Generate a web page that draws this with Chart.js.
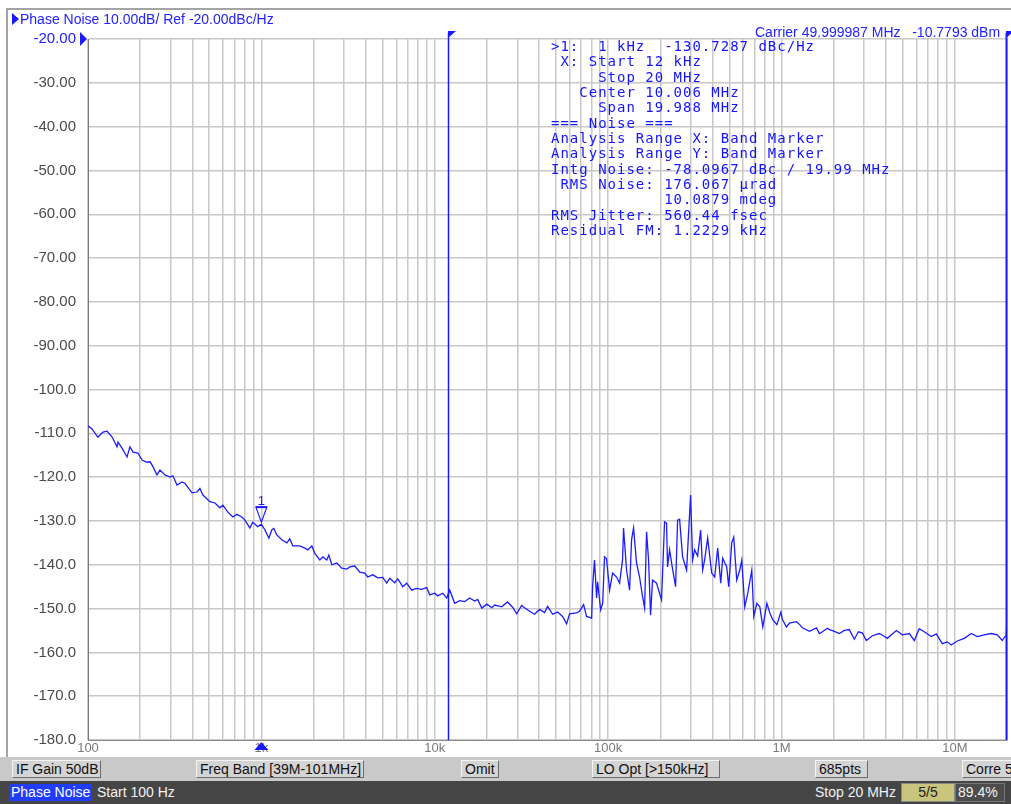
<!DOCTYPE html>
<html>
<head>
<meta charset="utf-8">
<title>Phase Noise</title>
<script src="https://cdn.jsdelivr.net/npm/chart.js@4.4.0/dist/chart.umd.min.js"></script>
<style>
  body { margin: 0; width: 1011px; height: 804px; overflow: hidden; position: relative; background: #fff; font-family: "Liberation Sans", Arial, sans-serif; }
  #frame { position: absolute; left: 6px; top: 8px; width: 1005px; height: 749px; border-top: 2px solid #a4a4a4; border-left: 2px solid #a4a4a4; }
  #pn { position: absolute; left: 0; top: 0; }
  .txt { position: absolute; white-space: pre; color: #2222ff; font-size: 14px; line-height: 16px; }
  #refArrow { position: absolute; left: 12px; top: 13px; width: 0; height: 0; border-top: 6px solid transparent; border-bottom: 6px solid transparent; border-left: 7px solid #1818ff; }
  #readout { position: absolute; left: 551px; top: 39px; white-space: pre; color: #1414ff; font-family: "DejaVu Sans Mono", monospace; font-size: 14px; letter-spacing: 1px; line-height: 15.35px; }
  #bar1 { position: absolute; left: 0; top: 757px; width: 1011px; height: 24px; background: #c9c9c9; }
  #bar2 { position: absolute; left: 0; top: 781px; width: 1011px; height: 23px; background: #454545; }
  .btn { position: absolute; top: 3px; height: 16px; background: #d4d4d4; border: 1px solid; border-color: #f4f4f4 #6c6c6c #6c6c6c #f4f4f4; font-size: 14px; line-height: 16px; padding: 0 3px; color: #111; white-space: pre; overflow: hidden; }
  .st { position: absolute; top: 3px; height: 17px; font-size: 14px; line-height: 17px; color: #f2f2f2; white-space: pre; padding: 0 2px; }
</style>
</head>
<body>
<div id="frame"></div>
<canvas id="pn" width="1011" height="756"></canvas>

<div id="refArrow"></div>
<div class="txt" style="left:20px; top:11px;">Phase Noise 10.00dB/ Ref -20.00dBc/Hz</div>
<div class="txt" style="left:755px; top:24px;">Carrier 49.999987 MHz   -10.7793 dBm</div>

<div id="readout">&gt;1:  1 kHz  -130.7287 dBc/Hz
 X: Start 12 kHz
     Stop 20 MHz
   Center 10.006 MHz
     Span 19.988 MHz
=== Noise ===
Analysis Range X: Band Marker
Analysis Range Y: Band Marker
Intg Noise: -78.0967 dBc / 19.99 MHz
 RMS Noise: 176.067 µrad
            10.0879 mdeg
RMS Jitter: 560.44 fsec
Residual FM: 1.2229 kHz</div>

<div id="bar1">
  <div class="btn" style="left:12px; width:81px;">IF Gain 50dB</div>
  <div class="btn" style="left:196px; width:160px;">Freq Band [39M-101MHz]</div>
  <div class="btn" style="left:461px; width:30px;">Omit</div>
  <div class="btn" style="left:592px; width:120px;">LO Opt [&gt;150kHz]</div>
  <div class="btn" style="left:815px; width:45px;">685pts</div>
  <div class="btn" style="left:962px; width:60px;">Corre 5</div>
</div>
<div id="bar2">
  <div class="st" style="left:9px; background:#1f3cff; color:#fff;">Phase Noise</div>
  <div class="st" style="left:95px;">Start 100 Hz</div>
  <div class="st" style="left:813px;">Stop 20 MHz</div>
  <div class="st" style="left:901px; width:48px; text-align:center; background:#c9c57c; color:#222; border:1px solid #888; top:2px;">5/5</div>
  <div class="st" style="left:955px; width:44px; background:#4c4c4c; border:1px solid #777; top:2px;">89.4%</div>
</div>

<script>
// offset frequency (Hz) of each trace point
const freqHz = [
  100, 105.5, 114, 122, 128.6, 137.5, 147, 149, 157, 168, 174.5, 182, 194, 205, 219, 228, 237, 250, 260, 278,
  297, 309, 326, 348, 362, 398, 425, 442, 460, 505, 540, 576, 600, 641, 685, 722, 772, 803, 858, 892, 954,
  1000, 1047, 1105, 1150, 1180, 1228, 1312, 1403, 1459, 1519, 1667, 1781, 1853, 1955, 2034, 2174, 2262, 2385, 2450, 2550,
  2723, 2910, 3110, 3236, 3458, 3695, 3949, 4110, 4392, 4694, 5016, 5287, 5502, 5880, 6119, 6540, 6893, 7366, 7872, 8413, 8990, 9356,
  10000, 10406, 11120, 11726, 12200, 13040, 13930, 14890, 15910, 17000, 17690, 18690, 19970, 21340, 22170, 24340, 26320, 28130, 29690, 31730,
  33000, 35270, 37680, 40270, 43030, 44790, 47860, 51150, 54660, 57650, 59950, 65800, 68450, 72240, 75140, 80350, 81400, 83510, 85850, 87000,
  90620, 93070, 95360, 97900,
  102000, 106200, 111900, 116500, 121200, 122800, 127800, 133000, 136600, 140300, 145900, 151900, 158100, 162400, 166700, 171200, 175800, 180500, 190300, 198100,
  203400, 211700, 217400, 220300, 226300, 235500, 245100, 251700, 258500, 269000, 283700, 299200, 307300, 315600, 328500, 341900, 351100, 360600, 375300, 395900,
  412000, 428800, 446300, 458300, 483400, 496400, 516700, 530600, 552200, 574800, 590200, 614300, 639400, 674400, 692600, 720900, 750300, 780900, 823700, 857300,
  892300, 941200, 992700,
  1013000, 1069000, 1112000, 1220000, 1270000, 1322000, 1450000, 1591000, 1656000, 1723000, 1841000, 1891000, 2020000, 2158000, 2305000, 2462000, 2632000, 2779000,
  2933000, 3088000, 3348000, 3670000, 3870000, 4083000, 4364000, 4598000, 4985000, 5470000, 5839000, 6234000, 6659000, 7314000, 7816000, 8467000, 9047000, 9536000,
  10340000, 11340000, 12440000, 13480000, 14790000, 16240000, 17580000, 18780000, 19800000, 20000000
];

// measured phase noise, dBc/Hz
const noiseDbc = [
  -108.3, -109.0, -110.9, -109.7, -109.5, -110.8, -113.1, -112.0, -113.4, -115.4, -113.1, -114.3, -114.5, -116.1, -116.6, -116.5, -117.6, -119.5, -118.4, -119.5,
  -120.0, -119.7, -121.8, -121.1, -121.4, -123.6, -123.4, -122.6, -124.1, -125.6, -125.9, -127.0, -126.4, -128.0, -129.1, -128.5, -129.1, -129.8, -131.6, -130.3, -131.3,
  -130.7287, -132.0, -133.9, -132.0, -131.7, -133.2, -134.3, -135.0, -134.1, -135.7, -135.7, -136.2, -136.6, -135.7, -137.4, -138.9, -138.2, -138.9, -137.8, -140.0,
  -139.6, -140.8, -141.0, -140.5, -140.3, -141.7, -141.9, -142.8, -142.3, -143.0, -142.9, -144.2, -143.1, -144.1, -143.2, -145.0, -144.2, -145.8, -145.4, -145.6, -145.2, -146.9,
  -146.5, -147.1, -146.5, -147.6, -145.8, -148.8, -148.2, -148.4, -147.6, -148.3, -147.9, -149.9, -149.0, -149.8, -149.2, -149.6, -148.5, -149.7, -151.2, -149.3,
  -149.8, -150.6, -151.3, -150.2, -150.9, -149.5, -151.3, -150.8, -151.8, -153.5, -151.2, -151.0, -150.6, -149.1, -151.8, -152.2, -145.0, -138.9, -147.6, -143.9,
  -150.3, -148.8, -138.2, -138.6,
  -145.8, -141.9, -142.8, -144.2, -138.9, -131.6, -141.2, -145.8, -134.3, -131.6, -139.6, -142.8, -147.3, -149.9, -132.5, -138.9, -151.5, -143.5, -144.2, -146.5,
  -148.0, -130.2, -130.5, -140.5, -136.6, -141.0, -145.0, -129.8, -129.6, -138.2, -141.2, -124.1, -138.9, -136.6, -138.0, -132.1, -141.2, -138.9, -133.9, -141.9,
  -142.8, -136.2, -144.2, -138.5, -140.5, -145.0, -135.0, -133.7, -143.5, -141.2, -138.9, -149.6, -146.5, -141.2, -151.8, -148.8, -149.6, -154.2, -148.8, -151.0,
  -152.6, -153.7, -150.8,
  -152.5, -154.2, -153.3, -153.0, -153.6, -154.4, -155.2, -154.4, -155.7, -155.3, -154.5, -154.8, -155.2, -155.7, -155.0, -154.8, -157.0, -155.3,
  -155.6, -157.3, -156.2, -155.7, -156.2, -156.8, -155.8, -155.0, -156.0, -155.7, -157.3, -154.6, -155.3, -156.4, -155.8, -158.0, -157.6, -158.3,
  -157.4, -156.8, -155.7, -156.4, -156.0, -155.7, -156.0, -157.3, -156.0, -151.5
];

const xDecades = [100, 1000, 10000, 100000, 1000000, 10000000];
const xDecadeLabels = ['100', '1k', '10k', '100k', '1M', '10M'];
const xStart = 100, xStop = 20000000;
const yRef = -20, yBottom = -180, yDiv = 10;

const marker1 = { freq: 1000, level: -130.7287 };
const bandStart = 12000, bandStop = 20000000;

const BLUE = '#1a1aff';

// 1..9 per decade grid
const gridFreqs = [];
xDecades.forEach(d => {
  for (let m = 1; m <= 9; m++) {
    if (d * m <= xStop) gridFreqs.push(d * m);
  }
});
gridFreqs.push(xStop);

const traceOverlay = {
  id: 'traceOverlay',
  afterDraw(chart) {
    const { ctx, chartArea: a, scales: { x, y } } = chart;
    ctx.save();

    // reference level arrow
    const ry = y.getPixelForValue(yRef);
    ctx.fillStyle = BLUE;
    ctx.beginPath();
    ctx.moveTo(80, ry - 7);
    ctx.lineTo(87, ry);
    ctx.lineTo(80, ry + 7);
    ctx.closePath();
    ctx.fill();

    // band markers with flags
    [bandStart, bandStop].forEach((f, i) => {
      let px = Math.round(x.getPixelForValue(f));
      if (i === 1) px -= 1;
      ctx.strokeStyle = BLUE;
      ctx.lineWidth = i === 1 ? 2 : 1.5;
      ctx.beginPath();
      ctx.moveTo(px + 0.5, a.top - 6);
      ctx.lineTo(px + 0.5, a.bottom);
      ctx.stroke();
      ctx.fillStyle = BLUE;
      ctx.beginPath();
      ctx.moveTo(px, a.top - 8);
      ctx.lineTo(px + 8, a.top - 8);
      ctx.lineTo(px, a.top - 1);
      ctx.closePath();
      ctx.fill();
    });

    // marker 1
    const mx = x.getPixelForValue(marker1.freq);
    const my = y.getPixelForValue(marker1.level);
    ctx.strokeStyle = BLUE;
    ctx.lineWidth = 1.2;
    ctx.beginPath();
    ctx.moveTo(mx - 5.5, my - 17);
    ctx.lineTo(mx + 5.5, my - 17);
    ctx.lineTo(mx, my - 2);
    ctx.closePath();
    ctx.stroke();
    ctx.lineWidth = 2;
    ctx.beginPath();
    ctx.moveTo(mx - 5.5, my - 17);
    ctx.lineTo(mx + 5.5, my - 17);
    ctx.stroke();
    ctx.fillStyle = BLUE;
    ctx.font = '13px "Liberation Sans", Arial, sans-serif';
    ctx.textAlign = 'center';
    ctx.textBaseline = 'alphabetic';
    ctx.fillText('1', mx, my - 19);

    // marker position on the frequency axis
    ctx.beginPath();
    ctx.moveTo(mx - 7, a.bottom + 10);
    ctx.lineTo(mx + 7, a.bottom + 10);
    ctx.lineTo(mx, a.bottom + 2);
    ctx.closePath();
    ctx.fill();

    ctx.restore();
  }
};

new Chart(document.getElementById('pn').getContext('2d'), {
  type: 'line',
  data: {
    datasets: [{
      data: freqHz.map((f, i) => ({ x: f, y: noiseDbc[i] })),
      borderColor: '#1c1cff',
      borderWidth: 1.3,
      pointRadius: 0,
      tension: 0,
      fill: false
    }]
  },
  options: {
    responsive: false,
    animation: false,
    layout: { padding: { left: 0, right: 4, top: 39, bottom: 0 } },
    plugins: { legend: { display: false }, tooltip: { enabled: false } },
    scales: {
      x: {
        type: 'logarithmic',
        min: xStart,
        max: xStop,
        afterBuildTicks: scale => { scale.ticks = gridFreqs.map(v => ({ value: v })); },
        afterFit: scale => {
          scale.height = 16;
          scale.paddingLeft = 0; scale.paddingRight = 0;
        },
        grid: { color: '#c8c8c8', lineWidth: 1.5, drawTicks: false },
        border: { color: '#8a8a8a', width: 1 },
        ticks: {
          autoSkip: false,
          maxRotation: 0,
          padding: 1,
          color: '#7a7a7a',
          font: { family: '"Liberation Sans", Arial, sans-serif', size: 13 },
          callback: value => {
            const k = xDecades.indexOf(value);
            return k >= 0 ? xDecadeLabels[k] : '';
          }
        }
      },
      y: {
        type: 'linear',
        min: yBottom,
        max: yRef,
        afterFit: scale => {
          scale.width = 88;
          scale.paddingTop = 0; scale.paddingBottom = 0;
        },
        grid: { color: '#c8c8c8', lineWidth: 1.5, drawTicks: false },
        border: { color: '#7a7a7a', width: 1 },
        ticks: {
          stepSize: yDiv,
          padding: 12,
          color: c => c.tick.value === yRef ? '#2020ff' : '#4a4a4a',
          font: { family: '"Liberation Sans", Arial, sans-serif', size: 15 },
          callback: v => v > -100 ? v.toFixed(2) : v.toFixed(1)
        }
      }
    }
  },
  plugins: [traceOverlay]
});
</script>
</body>
</html>
